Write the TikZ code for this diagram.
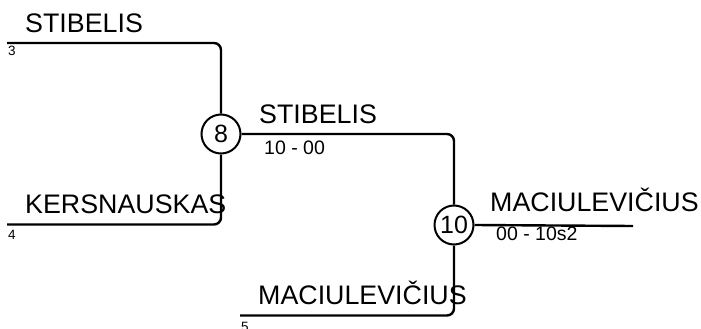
\documentclass[tikz,border=0pt]{standalone}
\usepackage{fontspec}
\setmainfont{Liberation Sans}
\begin{document}
\begin{tikzpicture}[x=1pt,y=-1pt,line width=2.4pt,
  round/.style={circle,draw,minimum size=39pt,inner sep=0pt,line width=2pt,font=\fontsize{25}{25}\selectfont},
  player/.style={anchor=base west,inner sep=0pt,font=\fontsize{26.8}{27}\selectfont},
  seed/.style={anchor=base west,inner sep=0pt,font=\fontsize{13.5}{14}\selectfont},
  score/.style={anchor=base west,inner sep=0pt,font=\fontsize{19.5}{20}\selectfont},
  wire/.style={rounded corners=7pt}]
\useasboundingbox (0,0) rectangle (701,329);
% match nodes
\node[round] (c8) at (221,134) {8};
\node[round] (c10) at (454,225) {10};
% free ends
\coordinate (a) at (7,43);
\coordinate (b) at (7,224.5);
\coordinate (d) at (240,315.5);
\coordinate (e) at (633,226);
% connectors
\draw[wire] (a) -| (c8.north);
\draw[wire] (b) -| (c8.south);
\draw[wire] (c8.east) -| (c10.north);
\draw[wire] (d) -| (c10.south);
\draw (c10.east) -- (e);
% labels
\node[player] (n1) at (24,32.7) {STIBELIS};
\node[seed] (s1) at (7,56) {3};
\node[player] (n2) at (24,213) {KERSNAUSKAS};
\node[seed] (s2) at (7,239.5) {4};
\node[player] (n3) at (258,123.3) {STIBELIS};
\node[score] (r1) at (263,154) {10 - 00};
\node[player] (n4) at (257,304) {MACIULEVIČIUS};
\node[seed] (s3) at (240,331) {5};
\node[player] (n5) at (489,211.5) {MACIULEVIČIUS};
\node[score] (r2) at (495,240) {00 - 10s2};
\end{tikzpicture}
\end{document}
